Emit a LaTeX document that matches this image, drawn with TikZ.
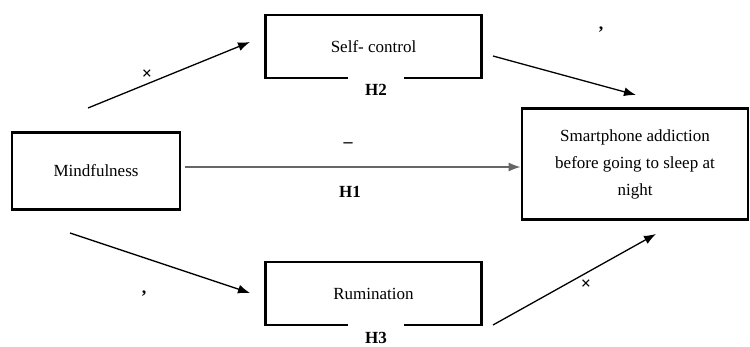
\documentclass[tikz,border=0pt]{standalone}
\usepackage{fontspec}
\setmainfont{Liberation Serif}
\usetikzlibrary{arrows,arrows.meta}

\begin{document}
\begin{tikzpicture}[x=1pt,y=-1pt]
		\tikzstyle{var}=[draw, line width=2.6pt, font=\fontsize{17}{27}\selectfont, align=center, inner sep=0pt];
		\tikzstyle{hyp}=[fill=white, font=\fontsize{17}{20}\selectfont\bfseries, minimum width=56pt, minimum height=28pt, inner sep=1pt];
		\tikzstyle{sign}=[font=\fontsize{18}{18}\selectfont\bfseries, inner sep=0pt];
		\tikzstyle{path}=[-{Latex[length=12pt,width=9pt]}, line width=1.3pt];

		\useasboundingbox (0,0) rectangle (750,347);

		\node[var, minimum width=168pt, minimum height=77pt] (mind) at (96,171) {Mindfulness};
		\node[var, minimum width=216pt, minimum height=63pt] (self) at (373.5,46.5) {Self- control};
		\node[var, minimum width=216pt, minimum height=63pt] (rum) at (373.5,293.5) {Rumination};
		\node[var, minimum width=226pt, minimum height=111pt] (phone) at (635,164) {Smartphone addiction\\before going to sleep at\\night};

		\node[hyp] (h2) at (376,90) {H2};
		\node[hyp] (h3) at (376,338) {H3};
		\node[font=\fontsize{17}{20}\selectfont\bfseries] (h1) at (350,192) {H1};

		\node[sign] (s1) at (147,75) {×};
		\node[sign] (s2) at (601,30) {,};
		\node[sign] (s3) at (348,145) {--};
		\node[sign] (s4) at (144,294) {,};
		\node[sign] (s5) at (586,285) {×};

		\coordinate (a1) at (88,108);
		\coordinate (b1) at (250,42);
		\coordinate (a2) at (493,56);
		\coordinate (b2) at (636,95);
		\coordinate (a3) at (70,233);
		\coordinate (b3) at (250,293);
		\coordinate (a4) at (493,325);
		\coordinate (b4) at (656,234);

		\draw[path] (a1) -- (b1);
		\draw[path] (a2) -- (b2);
		\draw[path, draw=black!60, line width=1.8pt] (mind.east) ++(4,-4) -- (phone.west |- 0,167);
		\draw[path] (a3) -- (b3);
		\draw[path] (a4) -- (b4);
	\end{tikzpicture}
\end{document}
